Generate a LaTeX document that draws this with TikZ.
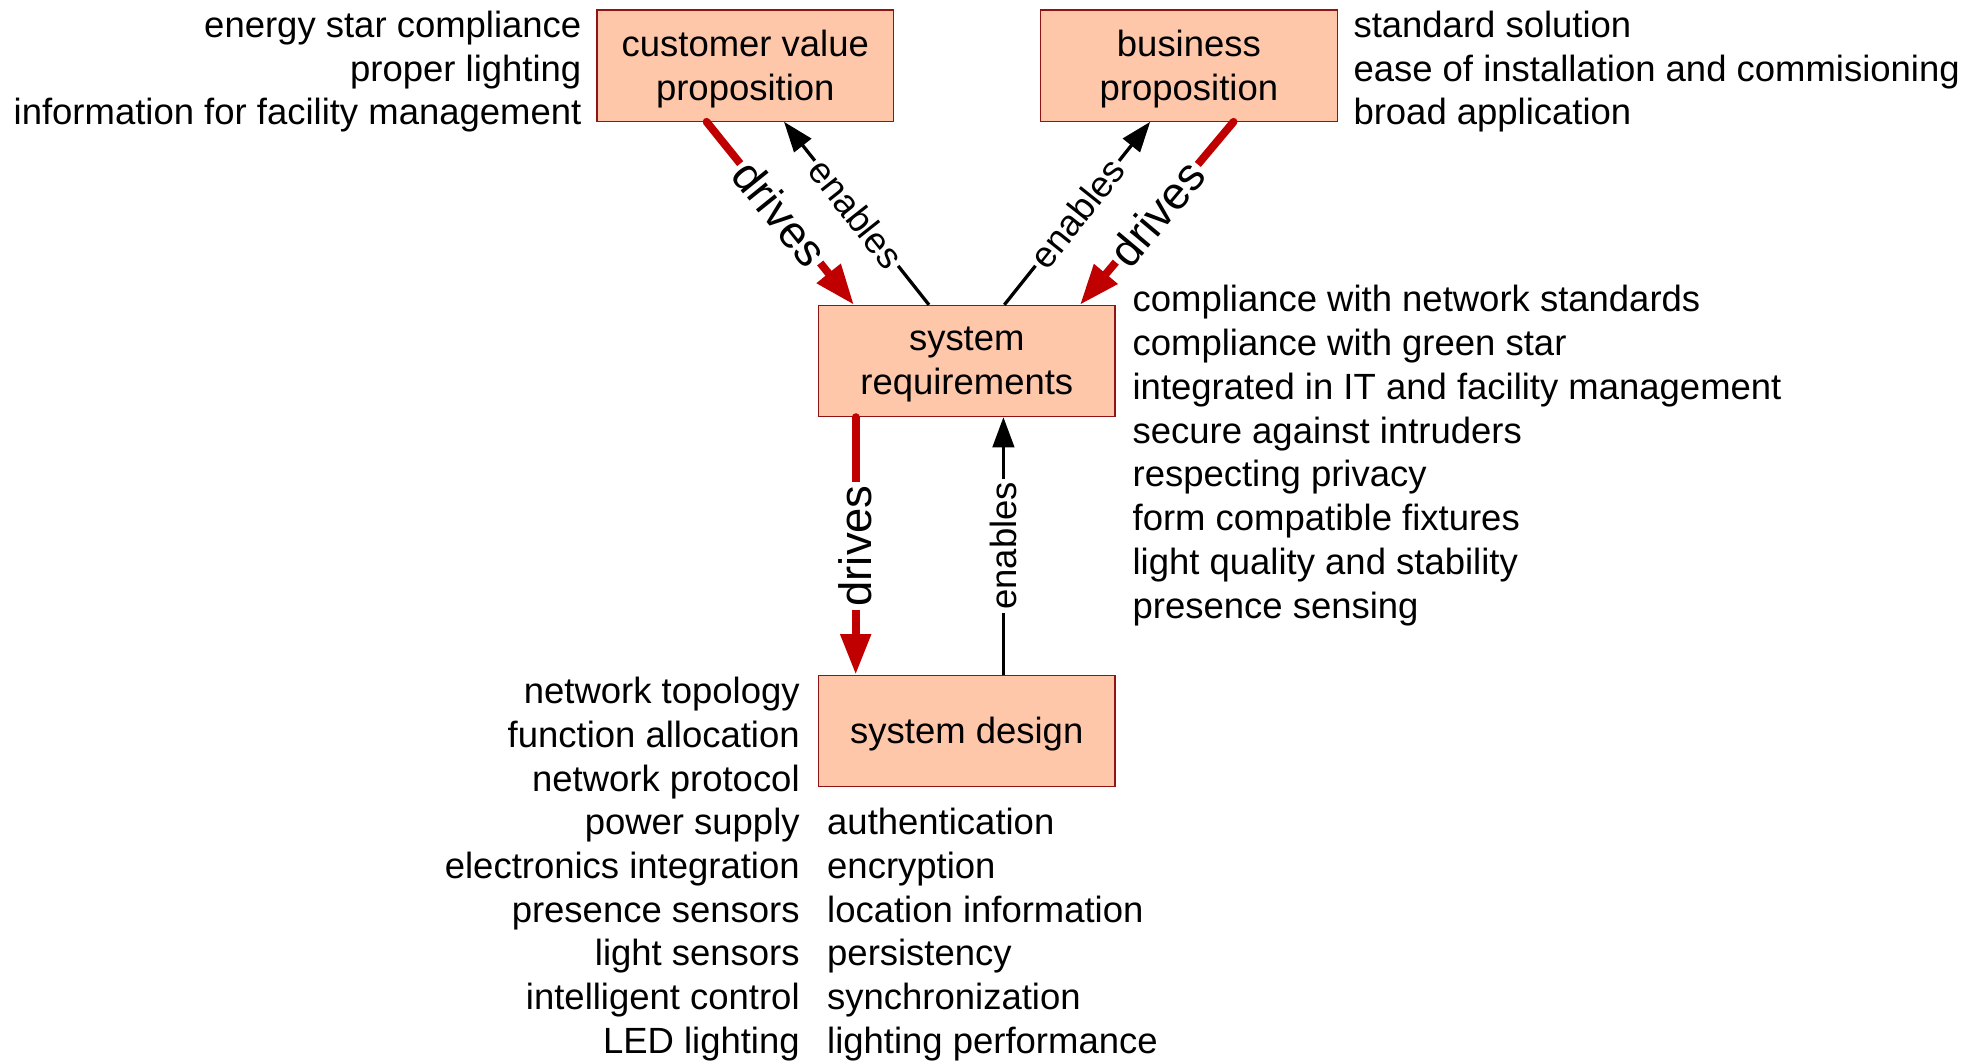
\documentclass[tikz,border=0pt]{standalone}
\usepackage{fontspec}
\setmainfont{Liberation Sans}
\usetikzlibrary{arrows.meta,calc}

\definecolor{boxfill}{RGB}{255,199,170}
\definecolor{boxline}{RGB}{145,20,20}
\definecolor{drivered}{RGB}{192,0,0}

\tikzset{
  stage/.style={draw=boxline, line width=0.5pt, fill=boxfill,
    minimum width=117.5pt, minimum height=44pt, inner sep=0pt},
  stagetext/.style={inner sep=0pt, align=center,
    font=\fontsize{14.45}{17.5}\selectfont},
  drivearrow/.style={draw=drivered, line width=3.1pt, line cap=round,
    -{Triangle[width=11.5pt,length=16pt]}},
  enablearrow/.style={draw=black, line width=1.3pt,
    -{Triangle[width=8.5pt,length=12pt]}},
  drivelabel/.style={fill=white, inner sep=1.2pt, text=black,
    font=\fontsize{18}{18}\selectfont},
  enablelabel/.style={fill=white, inner sep=1.2pt,
    font=\fontsize{14.45}{14.45}\selectfont},
  listtext/.style={inner sep=0pt, font=\fontsize{14.45}{17.35}\selectfont},
}

\begin{document}
\begin{tikzpicture}[x=0.5pt, y=-0.5pt]
\useasboundingbox (0,0) rectangle (1568,841);

% stages
\node[stage] (cv) at (590.5,52) {};
\node[stage] (bp) at (942,52) {};
\node[stage] (sr) at (766,286) {};
\node[stage] (sd) at (766,579) {};
\node[stagetext] (cv-t) at ($(cv.center)+(0,3)$) {customer value\\proposition};
\node[stagetext] (bp-t) at ($(bp.center)+(0,3)$) {business\\proposition};
\node[stagetext] (sr-t) at ($(sr.center)+(0,3)$) {system\\requirements};
\node[stagetext] (sd-t) at ($(sd.center)+(0,2.5)$) {system design};

% attachment points on the stage edges
\coordinate (cv-d) at ($(cv.south west)!0.37!(cv.south east)$);
\coordinate (cv-e) at ($(cv.south west)!0.63!(cv.south east)$);
\coordinate (bp-e) at ($(bp.south west)!0.37!(bp.south east)$);
\coordinate (bp-d) at ($(bp.south west)!0.65!(bp.south east)$);
\coordinate (sr-t1) at ($(sr.north west)!0.121!(sr.north east)$);
\coordinate (sr-t2) at ($(sr.north west)!0.373!(sr.north east)$);
\coordinate (sr-t3) at ($(sr.north west)!0.626!(sr.north east)$);
\coordinate (sr-t4) at ($(sr.north west)!0.88!(sr.north east)$);
\coordinate (sr-b1) at ($(sr.south west)!0.127!(sr.south east)$);
\coordinate (sr-b2) at ($(sr.south west)!0.623!(sr.south east)$);
\coordinate (sd-t1) at ($(sd.north west)!0.127!(sd.north east)$);
\coordinate (sd-t2) at ($(sd.north west)!0.623!(sd.north east)$);

% connectors
\draw[drivearrow] (cv-d) -- node[drivelabel, sloped] (l1) {drives} (sr-t1);
\draw[enablearrow] (sr-t2) -- node[enablelabel, sloped] (l2) {enables} (cv-e);
\draw[enablearrow] (sr-t3) -- node[enablelabel, sloped] (l3) {enables} (bp-e);
\draw[drivearrow] (bp-d) -- node[drivelabel, sloped] (l4) {drives} (sr-t4);
\draw[drivearrow] (sr-b1) -- node[drivelabel, rotate=90] (l5) {drives} (sd-t1);
\draw[enablearrow] (sd-t2) -- node[enablelabel, rotate=90] (l6) {enables} (sr-b2);

% lists of aspects
\foreach \t [count=\i] in {energy star compliance, proper lighting,
    information for facility management}
  \node[listtext, anchor=base east] (cvl-\i) at (461, 30+34.5*\i-34.5) {\t};
\foreach \t [count=\i] in {standard solution,
    ease of installation and commisioning, broad application}
  \node[listtext, anchor=base west] (bpl-\i) at (1072, 30+34.5*\i-34.5) {\t};
\foreach \t [count=\i] in {compliance with network standards,
    compliance with green star, integrated in IT and facility management,
    secure against intruders, respecting privacy, form compatible fixtures,
    light quality and stability, presence sensing}
  \node[listtext, anchor=base west] (srl-\i) at (897, 247+34.7*\i-34.7) {\t};
\foreach \t [count=\i] in {network topology, function allocation,
    network protocol, power supply, electronics integration,
    presence sensors, light sensors, intelligent control, LED lighting}
  \node[listtext, anchor=base east] (sdl-\i) at (634, 557.7+34.6*\i-34.6) {\t};
\foreach \t [count=\i] in {authentication, encryption, location information,
    persistency, synchronization, lighting performance}
  \node[listtext, anchor=base west] (sdr-\i) at (655, 661.5+34.6*\i-34.6) {\t};
\end{tikzpicture}
\end{document}
